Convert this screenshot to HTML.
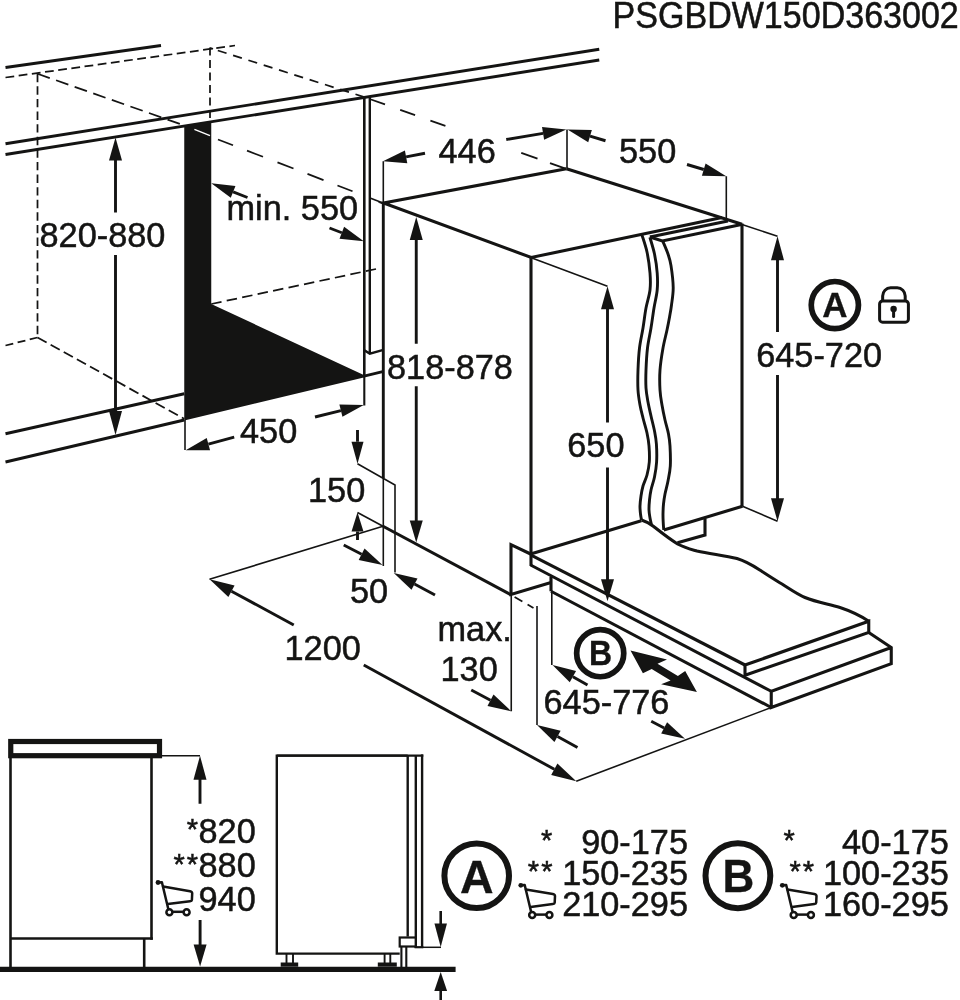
<!DOCTYPE html>
<html><head><meta charset="utf-8"><title>Installation diagram</title>
<style>
html,body{margin:0;padding:0;background:#fff;}
body{width:960px;height:1000px;overflow:hidden;}
svg{display:block;will-change:transform;}
text{font-family:"Liberation Sans",sans-serif;fill:#141413;stroke:#141413;stroke-width:0.5px;}
</style></head><body>
<svg width="960" height="1000" viewBox="0 0 960 1000">
<rect width="960" height="1000" fill="#fff"/>
<line x1="5.5" y1="67.5" x2="161" y2="45.5" stroke="#141413" stroke-width="2.9" stroke-linecap="butt"/>
<line x1="5.5" y1="77.5" x2="235" y2="45.5" stroke="#141413" stroke-width="1.75" stroke-linecap="butt" stroke-dasharray="8.8 4.5"/>
<line x1="37.5" y1="73.75" x2="37.5" y2="337.5" stroke="#141413" stroke-width="1.75" stroke-linecap="butt" stroke-dasharray="8.4 4.2"/>
<line x1="37.5" y1="73.75" x2="183" y2="125" stroke="#141413" stroke-width="1.75" stroke-linecap="butt" stroke-dasharray="13 6.7"/>
<line x1="218" y1="139.47" x2="233" y2="145.25" stroke="#141413" stroke-width="1.75" stroke-linecap="butt"/>
<line x1="247" y1="150.64" x2="263" y2="156.8" stroke="#141413" stroke-width="1.75" stroke-linecap="butt"/>
<line x1="277.5" y1="162.38" x2="293.5" y2="168.54" stroke="#141413" stroke-width="1.75" stroke-linecap="butt"/>
<line x1="307.5" y1="173.93" x2="323.5" y2="180.09" stroke="#141413" stroke-width="1.75" stroke-linecap="butt"/>
<line x1="337.5" y1="185.48" x2="352.5" y2="191.26" stroke="#141413" stroke-width="1.75" stroke-linecap="butt"/>
<line x1="210" y1="47.5" x2="210" y2="121" stroke="#141413" stroke-width="1.75" stroke-linecap="butt" stroke-dasharray="8 4.5"/>
<line x1="210" y1="48.0" x2="213" y2="48.95" stroke="#141413" stroke-width="1.75" stroke-linecap="butt"/>
<line x1="217.8" y1="50.48" x2="226.55" y2="53.26" stroke="#141413" stroke-width="1.75" stroke-linecap="butt"/>
<line x1="233.1" y1="55.35" x2="241.85" y2="58.13" stroke="#141413" stroke-width="1.75" stroke-linecap="butt"/>
<line x1="248.4" y1="60.21" x2="257.15" y2="62.99" stroke="#141413" stroke-width="1.75" stroke-linecap="butt"/>
<line x1="263.7" y1="65.08" x2="272.45" y2="67.86" stroke="#141413" stroke-width="1.75" stroke-linecap="butt"/>
<line x1="279.0" y1="69.94" x2="287.75" y2="72.72" stroke="#141413" stroke-width="1.75" stroke-linecap="butt"/>
<line x1="294.3" y1="74.81" x2="303.05" y2="77.59" stroke="#141413" stroke-width="1.75" stroke-linecap="butt"/>
<line x1="309.6" y1="79.67" x2="318.35" y2="82.46" stroke="#141413" stroke-width="1.75" stroke-linecap="butt"/>
<line x1="324.9" y1="84.54" x2="333.65" y2="87.32" stroke="#141413" stroke-width="1.75" stroke-linecap="butt"/>
<line x1="340.2" y1="89.4" x2="348.95" y2="92.19" stroke="#141413" stroke-width="1.75" stroke-linecap="butt"/>
<line x1="355.5" y1="94.27" x2="364.25" y2="97.05" stroke="#141413" stroke-width="1.75" stroke-linecap="butt"/>
<line x1="370.3" y1="99.2" x2="385" y2="104.43" stroke="#141413" stroke-width="1.75" stroke-linecap="butt"/>
<line x1="400.2" y1="109.83" x2="415.1" y2="115.13" stroke="#141413" stroke-width="1.75" stroke-linecap="butt"/>
<line x1="430.4" y1="120.57" x2="445.4" y2="125.9" stroke="#141413" stroke-width="1.75" stroke-linecap="butt"/>
<line x1="521.25" y1="152.86" x2="537.5" y2="158.64" stroke="#141413" stroke-width="1.75" stroke-linecap="butt"/>
<line x1="550" y1="163.08" x2="565.5" y2="168.59" stroke="#141413" stroke-width="1.75" stroke-linecap="butt"/>
<line x1="37.5" y1="337.5" x2="5.5" y2="345.5" stroke="#141413" stroke-width="1.75" stroke-linecap="butt" stroke-dasharray="8 4.5"/>
<line x1="37.5" y1="337.5" x2="184.25" y2="418.75" stroke="#141413" stroke-width="1.75" stroke-linecap="butt" stroke-dasharray="10.4 4.6"/>
<line x1="211.25" y1="304" x2="376" y2="269" stroke="#141413" stroke-width="1.75" stroke-linecap="butt" stroke-dasharray="10.5 5.3"/>
<line x1="5.5" y1="143.75" x2="599.25" y2="49.25" stroke="#141413" stroke-width="2.9" stroke-linecap="butt"/>
<line x1="5.5" y1="154.5" x2="599.25" y2="60" stroke="#141413" stroke-width="2.9" stroke-linecap="butt"/>
<line x1="5.5" y1="433.75" x2="184.25" y2="393.75" stroke="#141413" stroke-width="2.9" stroke-linecap="butt"/>
<line x1="5.5" y1="462" x2="184.25" y2="420" stroke="#141413" stroke-width="2.9" stroke-linecap="butt"/>
<line x1="363" y1="376.3" x2="383.75" y2="371.3" stroke="#141413" stroke-width="2.9" stroke-linecap="butt"/>
<polygon points="184.25,126 211.25,121.7 211.25,304 363.75,375 363.75,377.5 184.25,420.5" fill="#141413" stroke="#141413" stroke-width="0" stroke-linejoin="miter"/>
<line x1="194.4" y1="129.4" x2="210" y2="135.6" stroke="#fff" stroke-width="1.5" stroke-linecap="butt"/>
<line x1="364.3" y1="96.5" x2="364.3" y2="376" stroke="#141413" stroke-width="2.6" stroke-linecap="butt"/>
<line x1="364.3" y1="376" x2="364.3" y2="405.5" stroke="#141413" stroke-width="2.1" stroke-linecap="butt"/>
<line x1="369.8" y1="96" x2="369.8" y2="353.6" stroke="#141413" stroke-width="2.4" stroke-linecap="butt"/>
<polyline points="364.3,350.2 369.8,353.6 382.5,350.2" fill="none" stroke="#141413" stroke-width="2.4" stroke-linejoin="miter"/>
<line x1="185" y1="420" x2="185" y2="450" stroke="#141413" stroke-width="1.6" stroke-linecap="butt"/>
<line x1="383.3" y1="203" x2="383.3" y2="478" stroke="#141413" stroke-width="2.9" stroke-linecap="butt"/>
<line x1="383.3" y1="477" x2="383.3" y2="566" stroke="#141413" stroke-width="1.6" stroke-linecap="butt"/>
<line x1="383.3" y1="161.25" x2="383.3" y2="203" stroke="#141413" stroke-width="1.6" stroke-linecap="butt"/>
<line x1="370" y1="198" x2="383" y2="203" stroke="#141413" stroke-width="1.6" stroke-linecap="butt"/>
<polyline points="566.5,168.75 383.5,203 531.25,257.5 722,217.5" fill="none" stroke="#141413" stroke-width="3.1" stroke-linejoin="miter"/>
<line x1="566.5" y1="168.75" x2="742" y2="224.2" stroke="#141413" stroke-width="3.1" stroke-linecap="butt"/>
<line x1="531" y1="257.5" x2="531" y2="566" stroke="#141413" stroke-width="3.1" stroke-linecap="butt"/>
<line x1="531.25" y1="257.8" x2="607.5" y2="286.25" stroke="#141413" stroke-width="1.6" stroke-linecap="butt"/>
<line x1="649.9" y1="237.1" x2="727.9" y2="221" stroke="#141413" stroke-width="3.1" stroke-linecap="butt"/>
<polyline points="649.9,237.1 662.3,241 741.5,224.4" fill="none" stroke="#141413" stroke-width="3.1" stroke-linejoin="miter"/>
<line x1="742" y1="223.5" x2="742" y2="506.5" stroke="#141413" stroke-width="3.1" stroke-linecap="butt"/>
<line x1="742" y1="224.5" x2="777.5" y2="236.25" stroke="#141413" stroke-width="1.6" stroke-linecap="butt"/>
<line x1="726.3" y1="176.25" x2="726.3" y2="218.75" stroke="#141413" stroke-width="1.6" stroke-linecap="butt"/>
<line x1="567" y1="129.5" x2="567" y2="168.75" stroke="#141413" stroke-width="1.6" stroke-linecap="butt"/>
<path d="M641.9,234.8 C642.75,237.67 645.65,245.63 647,252 C648.35,258.37 649.50,266.67 650,273 C650.50,279.33 650.67,284.17 650,290 C649.33,295.83 647.17,301.67 646,308 C644.83,314.33 644.08,321.33 643,328 C641.92,334.67 640.33,341.00 639.5,348 C638.67,355.00 638.25,363.00 638,370 C637.75,377.00 637.67,384.17 638,390 C638.33,395.83 639.17,400.33 640,405 C640.83,409.67 641.83,413.33 643,418 C644.17,422.67 646.00,428.33 647,433 C648.00,437.67 648.62,441.17 649,446 C649.38,450.83 649.63,457.17 649.3,462 C648.97,466.83 648.05,471.00 647,475 C645.95,479.00 644.00,482.50 643,486 C642.00,489.50 641.50,492.67 641,496 C640.50,499.33 640.08,503.00 640,506 C639.92,509.00 640.25,511.67 640.5,514 C640.75,516.33 641.33,519.00 641.5,520" fill="none" stroke="#141413" stroke-width="2.9" stroke-linecap="butt" stroke-linejoin="round"/>
<path d="M649.9,237.4 C650.67,240.17 653.28,248.07 654.5,254 C655.72,259.93 656.75,267.00 657.2,273 C657.65,279.00 657.73,284.17 657.2,290 C656.67,295.83 655.03,301.67 654,308 C652.97,314.33 652.08,321.33 651,328 C649.92,334.67 648.33,341.00 647.5,348 C646.67,355.00 646.25,363.33 646,370 C645.75,376.67 645.67,382.67 646,388 C646.33,393.33 647.17,397.33 648,402 C648.83,406.67 649.92,411.17 651,416 C652.08,420.83 653.60,426.33 654.5,431 C655.40,435.67 656.05,438.83 656.4,444 C656.75,449.17 656.92,456.50 656.6,462 C656.28,467.50 655.43,472.33 654.5,477 C653.57,481.67 651.83,486.17 651,490 C650.17,493.83 649.83,496.67 649.5,500 C649.17,503.33 648.92,507.00 649,510 C649.08,513.00 649.60,515.62 650,518 C650.40,520.38 651.17,523.25 651.4,524.3" fill="none" stroke="#141413" stroke-width="2.9" stroke-linecap="butt" stroke-linejoin="round"/>
<path d="M663,241.6 C663.83,243.67 666.67,250.00 668,254 C669.33,258.00 670.13,260.02 671,265.6 C671.87,271.18 673.12,280.93 673.2,287.5 C673.28,294.07 672.10,300.13 671.5,305 C670.90,309.87 670.35,312.53 669.6,316.7 C668.85,320.87 668.10,324.78 667,330 C665.90,335.22 664.17,341.33 663,348 C661.83,354.67 660.50,363.00 660,370 C659.50,377.00 659.67,384.17 660,390 C660.33,395.83 661.17,400.00 662,405 C662.83,410.00 663.92,415.17 665,420 C666.08,424.83 667.67,429.67 668.5,434 C669.33,438.33 669.70,440.67 670,446 C670.30,451.33 670.63,460.17 670.3,466 C669.97,471.83 668.88,476.33 668,481 C667.12,485.67 665.75,490.17 665,494 C664.25,497.83 663.83,500.67 663.5,504 C663.17,507.33 663.05,511.00 663,514 C662.95,517.00 663.08,519.33 663.2,522 C663.33,524.67 663.66,528.67 663.75,530" fill="none" stroke="#141413" stroke-width="2.9" stroke-linecap="butt" stroke-linejoin="round"/>
<line x1="742.5" y1="506.25" x2="663.75" y2="530" stroke="#141413" stroke-width="3.1" stroke-linecap="butt"/>
<line x1="742.5" y1="506.25" x2="777.5" y2="521.25" stroke="#141413" stroke-width="1.6" stroke-linecap="butt"/>
<polyline points="705,518.5 705,535 677.5,542.8" fill="none" stroke="#141413" stroke-width="3.1" stroke-linejoin="miter"/>
<line x1="530.6" y1="554" x2="641.3" y2="520.7" stroke="#141413" stroke-width="3.1" stroke-linecap="butt"/>
<path d="M641.5,520 C646,521.5 650,523.5 653,526 C660,531.5 668,538 677.6,544 C684,547.5 690,549 697,551 C710,554 725,555.5 737,558.6 C748,562 755,567 762,571.5 C770,576.5 776,580.5 782,584 C790,589 797,594 805,597.5 C817,602.5 829,604 840,607.5 C852,611.5 861,616 868.75,621.25" fill="none" stroke="#141413" stroke-width="3.1" stroke-linecap="butt" stroke-linejoin="round"/>
<line x1="530.6" y1="554.8" x2="745" y2="665" stroke="#141413" stroke-width="3.1" stroke-linecap="butt"/>
<line x1="530.6" y1="565" x2="771.25" y2="691.25" stroke="#141413" stroke-width="3.1" stroke-linecap="butt"/>
<line x1="551" y1="591.25" x2="771.25" y2="707.5" stroke="#141413" stroke-width="3.1" stroke-linecap="butt"/>
<polyline points="745,665 868.75,621.25 868.75,632.5 745,675.3 745,665" fill="none" stroke="#141413" stroke-width="3.1" stroke-linejoin="miter"/>
<polyline points="868.75,632.5 891.25,647.5 891.25,663.75 771.25,707.5 771.25,691.25 891.25,647.5" fill="none" stroke="#141413" stroke-width="3.1" stroke-linejoin="miter"/>
<line x1="771.25" y1="707.5" x2="576.25" y2="781.25" stroke="#141413" stroke-width="1.6" stroke-linecap="butt"/>
<line x1="209.5" y1="579.25" x2="383" y2="526.25" stroke="#141413" stroke-width="1.6" stroke-linecap="butt"/>
<line x1="357.5" y1="512.5" x2="383" y2="526.25" stroke="#141413" stroke-width="1.6" stroke-linecap="butt"/>
<line x1="383" y1="526.25" x2="511.25" y2="595" stroke="#141413" stroke-width="3.1" stroke-linecap="butt"/>
<polyline points="357.5,463.75 395,485 395,572.5" fill="none" stroke="#141413" stroke-width="1.6" stroke-linejoin="miter"/>
<polyline points="530.6,554 511,544.6 511,594.5 551,582.5" fill="none" stroke="#141413" stroke-width="3.1" stroke-linejoin="miter"/>
<line x1="551" y1="577" x2="551" y2="591.25" stroke="#141413" stroke-width="3.1" stroke-linecap="butt"/>
<line x1="551.8" y1="591" x2="551.8" y2="665" stroke="#141413" stroke-width="1.6" stroke-linecap="butt"/>
<line x1="511.25" y1="595" x2="511.25" y2="711.25" stroke="#141413" stroke-width="1.6" stroke-linecap="butt"/>
<line x1="514.6" y1="597" x2="533.5" y2="608" stroke="#141413" stroke-width="1.75" stroke-linecap="butt" stroke-dasharray="9 6"/>
<line x1="537" y1="606" x2="537" y2="725" stroke="#141413" stroke-width="1.6" stroke-linecap="butt"/>
<polygon points="115.50,137.50 122.00,160.50 109.00,160.50" fill="#141413"/>
<line x1="115.5" y1="159" x2="115.5" y2="212.5" stroke="#141413" stroke-width="2.9" stroke-linecap="butt"/>
<polygon points="115.50,435.00 109.00,411.00 122.00,411.00" fill="#141413"/>
<line x1="115.5" y1="255" x2="115.5" y2="412" stroke="#141413" stroke-width="2.9" stroke-linecap="butt"/>
<polygon points="211.25,183.25 235.46,185.89 230.78,197.80" fill="#141413"/>
<line x1="247.5" y1="197.5" x2="233.12" y2="191.85" stroke="#141413" stroke-width="2.9" stroke-linecap="butt"/>
<polygon points="363.75,241.25 339.52,238.74 344.14,226.80" fill="#141413"/>
<line x1="329.5" y1="228" x2="341.83" y2="232.77" stroke="#141413" stroke-width="2.9" stroke-linecap="butt"/>
<polygon points="185.70,450.20 206.74,437.93 210.06,450.30" fill="#141413"/>
<line x1="234.2" y1="437.2" x2="208.4" y2="444.12" stroke="#141413" stroke-width="2.9" stroke-linecap="butt"/>
<polygon points="363.75,405.00 342.46,416.83 339.40,404.40" fill="#141413"/>
<line x1="315" y1="417" x2="340.93" y2="410.62" stroke="#141413" stroke-width="2.9" stroke-linecap="butt"/>
<polygon points="383.00,161.25 404.89,150.57 407.28,163.14" fill="#141413"/>
<line x1="425" y1="153.25" x2="406.08" y2="156.85" stroke="#141413" stroke-width="2.9" stroke-linecap="butt"/>
<polygon points="566.25,129.50 544.12,139.68 542.02,127.05" fill="#141413"/>
<line x1="506.25" y1="139.5" x2="543.07" y2="133.36" stroke="#141413" stroke-width="2.9" stroke-linecap="butt"/>
<polygon points="567.50,129.50 591.85,130.03 588.22,142.31" fill="#141413"/>
<line x1="605.5" y1="140.75" x2="590.03" y2="136.17" stroke="#141413" stroke-width="2.9" stroke-linecap="butt"/>
<polygon points="726.25,176.25 701.90,175.64 705.57,163.38" fill="#141413"/>
<line x1="687" y1="164.5" x2="703.74" y2="169.51" stroke="#141413" stroke-width="2.9" stroke-linecap="butt"/>
<polygon points="416.25,217.00 422.75,240.00 409.75,240.00" fill="#141413"/>
<line x1="416.25" y1="239" x2="416.25" y2="343.75" stroke="#141413" stroke-width="2.9" stroke-linecap="butt"/>
<polygon points="416.25,542.50 409.75,520.50 422.75,520.50" fill="#141413"/>
<line x1="416.25" y1="386.25" x2="416.25" y2="521.5" stroke="#141413" stroke-width="2.9" stroke-linecap="butt"/>
<polygon points="777.50,236.25 784.00,260.25 771.00,260.25" fill="#141413"/>
<line x1="777.5" y1="259" x2="777.5" y2="332" stroke="#141413" stroke-width="2.9" stroke-linecap="butt"/>
<polygon points="777.50,521.25 771.00,498.25 784.00,498.25" fill="#141413"/>
<line x1="777.5" y1="375" x2="777.5" y2="499" stroke="#141413" stroke-width="2.9" stroke-linecap="butt"/>
<polygon points="607.50,286.25 614.00,309.25 601.00,309.25" fill="#141413"/>
<line x1="607.5" y1="309" x2="607.5" y2="422.5" stroke="#141413" stroke-width="2.9" stroke-linecap="butt"/>
<polygon points="607.50,601.25 601.00,579.25 614.00,579.25" fill="#141413"/>
<line x1="607.5" y1="467.5" x2="607.5" y2="580" stroke="#141413" stroke-width="2.9" stroke-linecap="butt"/>
<polygon points="357.50,463.75 351.50,441.75 363.50,441.75" fill="#141413"/>
<line x1="357.5" y1="430" x2="357.5" y2="441.75" stroke="#141413" stroke-width="2.9" stroke-linecap="butt"/>
<polygon points="357.50,512.50 363.50,531.50 351.50,531.50" fill="#141413"/>
<line x1="357.5" y1="540" x2="357.5" y2="531.5" stroke="#141413" stroke-width="2.9" stroke-linecap="butt"/>
<polygon points="382.50,565.00 358.68,559.91 364.55,548.53" fill="#141413"/>
<line x1="343.75" y1="545" x2="361.62" y2="554.22" stroke="#141413" stroke-width="2.9" stroke-linecap="butt"/>
<polygon points="393.75,573.00 417.50,578.41 411.47,589.71" fill="#141413"/>
<line x1="435" y1="595" x2="414.49" y2="584.06" stroke="#141413" stroke-width="2.9" stroke-linecap="butt"/>
<polygon points="209.50,579.25 234.57,585.47 228.37,596.89" fill="#141413"/>
<line x1="293.75" y1="625" x2="231.47" y2="591.18" stroke="#141413" stroke-width="2.9" stroke-linecap="butt"/>
<polygon points="576.25,781.25 551.20,774.95 557.44,763.55" fill="#141413"/>
<line x1="363.75" y1="665" x2="554.32" y2="769.25" stroke="#141413" stroke-width="2.9" stroke-linecap="butt"/>
<polygon points="511.25,711.25 487.49,705.88 493.50,694.57" fill="#141413"/>
<line x1="471.25" y1="690" x2="490.5" y2="700.22" stroke="#141413" stroke-width="2.9" stroke-linecap="butt"/>
<polygon points="537.00,725.00 560.65,730.82 554.43,742.01" fill="#141413"/>
<line x1="577.5" y1="747.5" x2="557.54" y2="736.41" stroke="#141413" stroke-width="2.9" stroke-linecap="butt"/>
<polygon points="552.50,665.00 576.08,671.10 569.73,682.22" fill="#141413"/>
<line x1="587.5" y1="685" x2="572.9" y2="676.66" stroke="#141413" stroke-width="2.9" stroke-linecap="butt"/>
<polygon points="685.00,738.75 661.19,733.61 667.08,722.25" fill="#141413"/>
<line x1="651.25" y1="721.25" x2="664.14" y2="727.93" stroke="#141413" stroke-width="2.9" stroke-linecap="butt"/>
<polygon points="630.5,650.6 667,659.4 657.5,663.75 677.9,676.1 685.2,671 696.9,691.9 661.1,684.2 670.6,680.5 651.7,668.9 642.9,673.2" fill="#141413" stroke="#141413" stroke-width="0" stroke-linejoin="miter"/>
<rect x="10.75" y="741.5" width="148.75" height="14.2" fill="none" stroke="#141413" stroke-width="5.2"/>
<line x1="10.5" y1="757" x2="10.5" y2="967" stroke="#141413" stroke-width="2.6" stroke-linecap="butt"/>
<line x1="151.5" y1="757" x2="151.5" y2="939.8" stroke="#141413" stroke-width="2.6" stroke-linecap="butt"/>
<line x1="10.5" y1="938.5" x2="152.8" y2="938.5" stroke="#141413" stroke-width="2.6" stroke-linecap="butt"/>
<line x1="144.2" y1="938" x2="144.2" y2="967" stroke="#141413" stroke-width="2.6" stroke-linecap="butt"/>
<line x1="0" y1="969.3" x2="455.6" y2="969.3" stroke="#141413" stroke-width="5.2" stroke-linecap="butt"/>
<line x1="162" y1="755.75" x2="200" y2="755.75" stroke="#141413" stroke-width="1.6" stroke-linecap="butt"/>
<polygon points="200.00,755.75 206.50,779.75 193.50,779.75" fill="#141413"/>
<line x1="200" y1="779" x2="200" y2="803.75" stroke="#141413" stroke-width="2.9" stroke-linecap="butt"/>
<polygon points="200.10,966.60 193.60,944.60 206.60,944.60" fill="#141413"/>
<line x1="200.1" y1="920" x2="200.1" y2="945.5" stroke="#141413" stroke-width="2.9" stroke-linecap="butt"/>
<polyline points="407.7,755.6 276.8,755.6 276.8,953.6 399.7,953.6" fill="none" stroke="#141413" stroke-width="2.4" stroke-linejoin="miter"/>
<line x1="276.8" y1="755.6" x2="423.3" y2="755.6" stroke="#141413" stroke-width="2.4" stroke-linecap="butt"/>
<line x1="407.7" y1="755.6" x2="407.7" y2="936.6" stroke="#141413" stroke-width="2.4" stroke-linecap="butt"/>
<line x1="415.8" y1="755.6" x2="415.8" y2="948" stroke="#141413" stroke-width="2.4" stroke-linecap="butt"/>
<line x1="422.1" y1="754.4" x2="422.1" y2="948" stroke="#141413" stroke-width="2.4" stroke-linecap="butt"/>
<line x1="414.6" y1="947.2" x2="423.3" y2="947.2" stroke="#141413" stroke-width="2.2" stroke-linecap="butt"/>
<line x1="422" y1="947.3" x2="441" y2="947.3" stroke="#141413" stroke-width="1.5" stroke-linecap="butt"/>
<rect x="399.7" y="937.5" width="16" height="9" fill="#fff" stroke="#141413" stroke-width="2.2"/>
<line x1="401.4" y1="946.5" x2="401.4" y2="967" stroke="#141413" stroke-width="2.1" stroke-linecap="butt"/>
<line x1="406.3" y1="946.5" x2="406.3" y2="967" stroke="#141413" stroke-width="2.1" stroke-linecap="butt"/>
<line x1="286.5" y1="953.6" x2="286.5" y2="964" stroke="#141413" stroke-width="1.9" stroke-linecap="butt"/>
<line x1="293" y1="953.6" x2="293" y2="964" stroke="#141413" stroke-width="1.9" stroke-linecap="butt"/>
<line x1="280.7" y1="964.6" x2="298.2" y2="964.6" stroke="#141413" stroke-width="4.2" stroke-linecap="butt"/>
<line x1="384.6" y1="953.6" x2="384.6" y2="964" stroke="#141413" stroke-width="1.9" stroke-linecap="butt"/>
<line x1="390.3" y1="953.6" x2="390.3" y2="964" stroke="#141413" stroke-width="1.9" stroke-linecap="butt"/>
<line x1="377.8" y1="964.6" x2="396.8" y2="964.6" stroke="#141413" stroke-width="4.2" stroke-linecap="butt"/>
<polygon points="440.70,947.00 434.45,923.50 446.95,923.50" fill="#141413"/>
<line x1="440.7" y1="911" x2="440.7" y2="925" stroke="#141413" stroke-width="2.6" stroke-linecap="butt"/>
<polygon points="440.70,972.00 447.10,991.00 434.30,991.00" fill="#141413"/>
<line x1="440.7" y1="990" x2="440.7" y2="1000" stroke="#141413" stroke-width="2.6" stroke-linecap="butt"/>
<circle cx="834.85" cy="305.1" r="23.6" fill="none" stroke="#141413" stroke-width="5.7"/>
<text transform="translate(834.85,317.3) scale(1,1.0)" x="0" y="0" font-size="35" text-anchor="middle" font-weight="bold" style="stroke-width:0.3px">A</text>
<circle cx="600.2" cy="653.2" r="23.55" fill="none" stroke="#141413" stroke-width="5.7"/>
<text transform="translate(600.6,665.3) scale(1,1.075)" x="0" y="0" font-size="32" text-anchor="middle" font-weight="bold" style="stroke-width:0.3px">B</text>
<circle cx="476.7" cy="875.8" r="32.3" fill="none" stroke="#141413" stroke-width="6.0"/>
<text transform="translate(476.7,892.6) scale(1,1.0)" x="0" y="0" font-size="46.5" text-anchor="middle" font-weight="bold" style="stroke-width:0.3px">A</text>
<circle cx="737.9" cy="875.75" r="32.4" fill="none" stroke="#141413" stroke-width="6.0"/>
<text transform="translate(738.4,892.4) scale(1,1.07)" x="0" y="0" font-size="44" text-anchor="middle" font-weight="bold" style="stroke-width:0.3px">B</text>
<rect x="879.6" y="300.95" width="28.8" height="21.2" rx="3" fill="none" stroke="#141413" stroke-width="3"/>
<path d="M882.65,300.5 V296 A8,8.2 0 0 1 890.65,287.8 H897.2 A8,8.2 0 0 1 905.2,296 V300.5" fill="none" stroke="#141413" stroke-width="3" stroke-linecap="butt" stroke-linejoin="round"/>
<circle cx="893.6" cy="308.9" r="3.2" fill="#141413"/>
<line x1="893.6" y1="309" x2="893.6" y2="316.6" stroke="#141413" stroke-width="3" stroke-linecap="round"/>
<g transform="translate(156,880) scale(1.0)" fill="none" stroke="#141413" stroke-width="2.5" stroke-linecap="round" stroke-linejoin="round"><circle cx="2" cy="2.5" r="2.4" fill="#141413" stroke="none"/><path d="M2,2.5 L5.9,2.2 L12.3,29"/><path d="M7.1,6.6 L34,11.25 Q36.2,11.8 36.2,13.3 L35.9,19.8 Q35.8,21.1 34,21.3 L11.8,24.1"/><circle cx="13.4" cy="32.2" r="3"/><circle cx="30.6" cy="32.2" r="3"/><path d="M16.6,31.8 L27.4,31.8" stroke-linecap="butt"/></g>
<g transform="translate(518.8,882.8) scale(1.0)" fill="none" stroke="#141413" stroke-width="2.5" stroke-linecap="round" stroke-linejoin="round"><circle cx="2" cy="2.5" r="2.4" fill="#141413" stroke="none"/><path d="M2,2.5 L5.9,2.2 L12.3,29"/><path d="M7.1,6.6 L34,11.25 Q36.2,11.8 36.2,13.3 L35.9,19.8 Q35.8,21.1 34,21.3 L11.8,24.1"/><circle cx="13.4" cy="32.2" r="3"/><circle cx="30.6" cy="32.2" r="3"/><path d="M16.6,31.8 L27.4,31.8" stroke-linecap="butt"/></g>
<g transform="translate(780.3,882.8) scale(1.0)" fill="none" stroke="#141413" stroke-width="2.5" stroke-linecap="round" stroke-linejoin="round"><circle cx="2" cy="2.5" r="2.4" fill="#141413" stroke="none"/><path d="M2,2.5 L5.9,2.2 L12.3,29"/><path d="M7.1,6.6 L34,11.25 Q36.2,11.8 36.2,13.3 L35.9,19.8 Q35.8,21.1 34,21.3 L11.8,24.1"/><circle cx="13.4" cy="32.2" r="3"/><circle cx="30.6" cy="32.2" r="3"/><path d="M16.6,31.8 L27.4,31.8" stroke-linecap="butt"/></g>
<text transform="translate(612.6,28.4) scale(1,1.065)" x="0" y="0" font-size="34.05">PSGBDW150D363002</text>
<text x="39.5" y="247" font-size="34.3" text-anchor="start" font-weight="normal">820-880</text>
<text x="226.5" y="220" font-size="34.3" text-anchor="start" font-weight="normal">min. 550</text>
<text x="438.5" y="162.5" font-size="34.3" text-anchor="start" font-weight="normal">446</text>
<text x="619" y="162.5" font-size="34.3" text-anchor="start" font-weight="normal">550</text>
<text x="387" y="379.3" font-size="34.3" text-anchor="start" font-weight="normal">818-878</text>
<text x="756.2" y="366.7" font-size="34.3" text-anchor="start" font-weight="normal">645-720</text>
<text x="567.3" y="457" font-size="34.3" text-anchor="start" font-weight="normal">650</text>
<text x="240" y="442.5" font-size="34.3" text-anchor="start" font-weight="normal">450</text>
<text x="308" y="502" font-size="34.3" text-anchor="start" font-weight="normal">150</text>
<text x="350" y="602.5" font-size="34.3" text-anchor="start" font-weight="normal">50</text>
<text x="284.5" y="659.5" font-size="34.3" text-anchor="start" font-weight="normal">1200</text>
<text x="437.5" y="641.25" font-size="34.3" text-anchor="start" font-weight="normal">max.</text>
<text x="440.5" y="681" font-size="34.3" text-anchor="start" font-weight="normal">130</text>
<text x="543.5" y="713.75" font-size="34.3" text-anchor="start" font-weight="normal">645-776</text>
<text x="198.5" y="842.9" font-size="34.3" text-anchor="start" font-weight="normal">820</text>
<text x="198.5" y="877.3" font-size="34.3" text-anchor="start" font-weight="normal">880</text>
<text x="198.5" y="910.9" font-size="34.3" text-anchor="start" font-weight="normal">940</text>
<text x="688" y="854.2" font-size="34.3" text-anchor="end" font-weight="normal">90-175</text>
<text x="688" y="885.1" font-size="34.3" text-anchor="end" font-weight="normal">150-235</text>
<text x="688" y="916.1" font-size="34.3" text-anchor="end" font-weight="normal">210-295</text>
<text x="948.8" y="854.2" font-size="34.3" text-anchor="end" font-weight="normal">40-175</text>
<text x="948.8" y="885.1" font-size="34.3" text-anchor="end" font-weight="normal">100-235</text>
<text x="948.8" y="916.1" font-size="34.3" text-anchor="end" font-weight="normal">160-295</text>
<text x="186.8" y="839.4" font-size="29" text-anchor="start" font-weight="normal">*</text>
<text x="173.45" y="873.5" font-size="29" text-anchor="start" font-weight="normal">*</text>
<text x="186.8" y="873.5" font-size="29" text-anchor="start" font-weight="normal">*</text>
<text x="541.0" y="849.8" font-size="29" text-anchor="start" font-weight="normal">*</text>
<text x="527.7" y="881.3" font-size="29" text-anchor="start" font-weight="normal">*</text>
<text x="541.3" y="881.3" font-size="29" text-anchor="start" font-weight="normal">*</text>
<text x="783.5" y="849.8" font-size="29" text-anchor="start" font-weight="normal">*</text>
<text x="789.4" y="881.3" font-size="29" text-anchor="start" font-weight="normal">*</text>
<text x="802.8" y="881.3" font-size="29" text-anchor="start" font-weight="normal">*</text>
</svg>
</body></html>
